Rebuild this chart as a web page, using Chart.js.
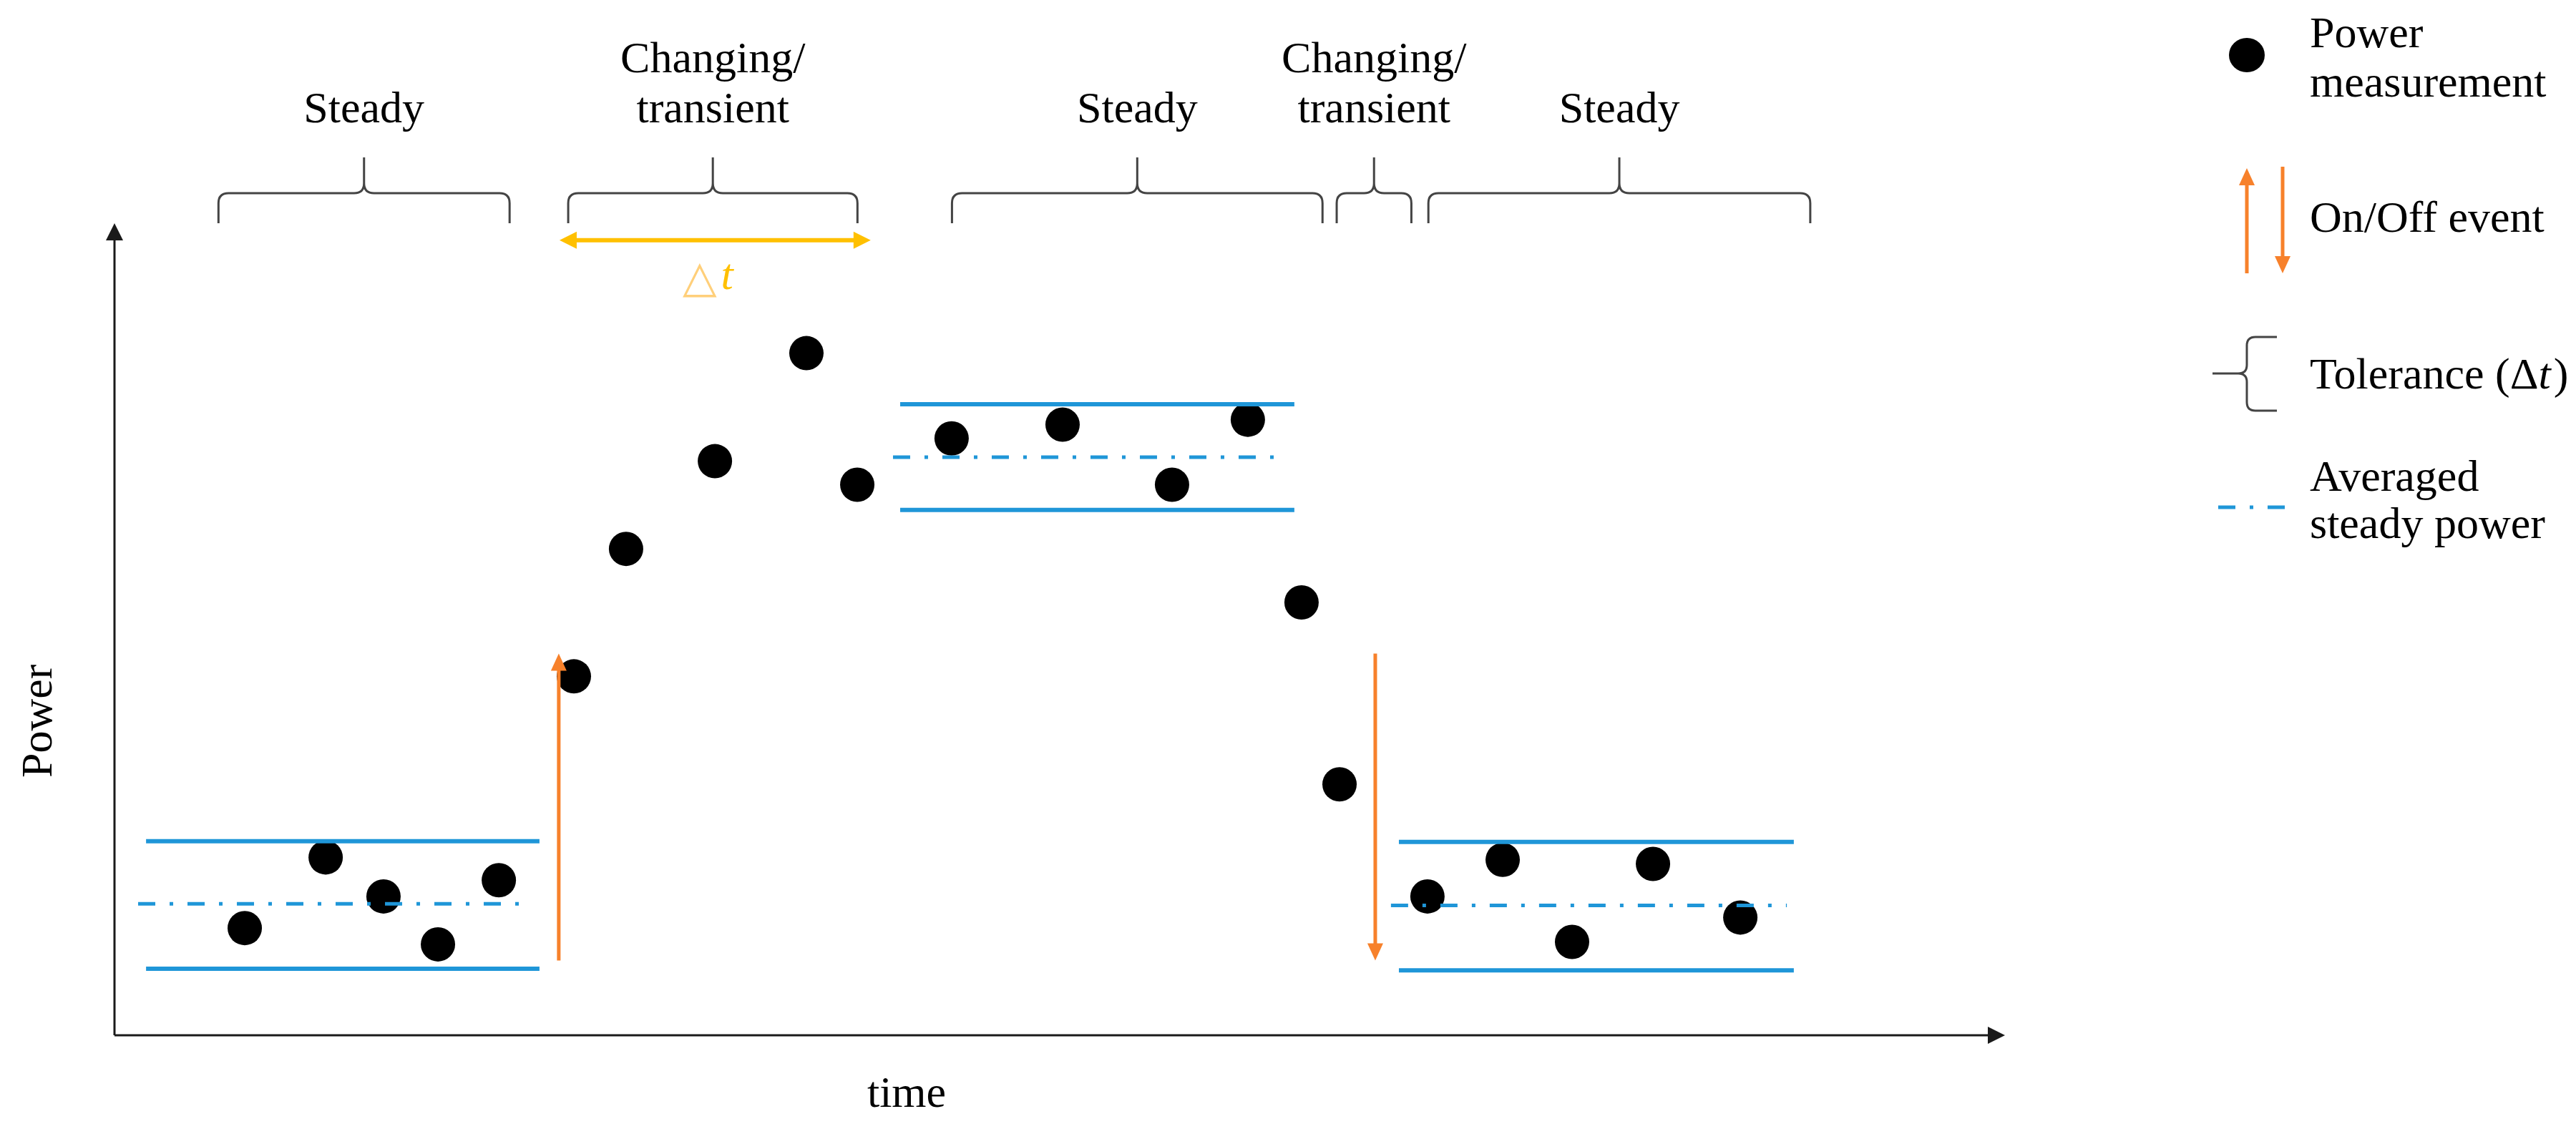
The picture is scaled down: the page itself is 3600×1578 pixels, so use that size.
<!DOCTYPE html>
<html><head><meta charset="utf-8">
<script src="https://cdn.jsdelivr.net/npm/chart.js@4"></script>
<style>html,body{margin:0;padding:0;background:#fff;}#wrap{width:3600px;height:1578px;}</style>
</head><body><div id="wrap"><canvas id="c" width="3600" height="1578"></canvas></div>
<script>
// ---- data ----
const phaseLabels = [['Steady'], ['Changing/', 'transient'], ['Steady'], ['Changing/', 'transient'], ['Steady']];
const phaseStart = [5.5, 24.0, 44.3, 64.65, 69.5];
const phaseEnd = [20.9, 39.3, 63.9, 68.6, 89.7];
const measTime = [6.89, 11.17, 14.23, 17.11, 20.33, 24.30, 27.06, 31.76, 36.60, 39.29, 44.28, 50.15, 55.94, 59.95, 62.79, 64.80, 69.45, 73.43, 77.10, 81.38, 86.0];
const measPower = [13.2, 21.9, 17.1, 11.2, 19.1, 44.2, 59.9, 70.7, 84.0, 67.8, 73.5, 75.2, 67.8, 75.8, 53.3, 30.9, 17.1, 21.6, 11.5, 21.1, 14.5];
const bandStart = [1.67, 41.56, 67.94];
const bandEnd = [22.48, 62.41, 88.83];
const bandUpper = [23.9, 77.7, 23.8];
const bandLower = [8.2, 64.7, 8.0];
const avgStart = [1.25, 41.18, 67.52];
const avgEnd = [22.14, 62.04, 88.46];
const avgPower = [16.2, 71.2, 16.0];
const eventTime = [23.5, 66.69];
const eventFrom = [9.2, 47.0];
const eventTo = [47.0, 9.2];
const tolStart = 23.54, tolEnd = 40.0, tolLevel = 97.9;
const xTitle = 'time', yTitle = 'Power';
const legendLabels = [['Power', 'measurement'], ['On/Off event'], ['Tolerance (Δ', 't', ')'], ['Averaged', 'steady power']];

// ---- styles ----
const BLUE = '#1f96d8', ORANGE = '#F7812B', GOLD = '#FFC000', BRACE = '#444';
const FONT = '"Liberation Serif", "DejaVu Serif", serif';
const DASHDOT = [24, 20, 5, 20];

const datasets = [];
for (let i = 0; i < bandStart.length; i++) {
  [bandUpper[i], bandLower[i]].forEach(v => datasets.push({
    data: [{x: bandStart[i], y: v}, {x: bandEnd[i], y: v}],
    showLine: true, borderColor: BLUE, borderWidth: 6, pointRadius: 0, borderCapStyle: 'butt', order: 1
  }));
  datasets.push({
    data: [{x: avgStart[i], y: avgPower[i]}, {x: avgEnd[i], y: avgPower[i]}],
    showLine: true, borderColor: BLUE, borderWidth: 5, borderDash: DASHDOT, pointRadius: 0, order: 1
  });
}
datasets.push({
  data: measTime.map((t, i) => ({x: t, y: measPower[i]})),
  showLine: false, pointRadius: 24, pointBackgroundColor: '#000', pointBorderWidth: 0, pointBorderColor: '#000', order: 2
});

function head(ctx, x, y, dx, dy, len, half, color) {
  ctx.beginPath();
  ctx.moveTo(x, y);
  ctx.lineTo(x - dx * len - dy * half, y - dy * len + dx * half);
  ctx.lineTo(x - dx * len + dy * half, y - dy * len - dx * half);
  ctx.closePath(); ctx.fillStyle = color; ctx.fill();
}
function vArrow(ctx, x, y0, y1, color, lw) {
  const dir = Math.sign(y1 - y0);
  ctx.strokeStyle = color; ctx.lineWidth = lw; ctx.setLineDash([]);
  ctx.beginPath(); ctx.moveTo(x, y0); ctx.lineTo(x, y1 - dir * 18); ctx.stroke();
  head(ctx, x, y1, 0, dir, 24, 11, color);
}
function hBrace(ctx, x0, x1, yEnd, yLine, yPeak) {
  const xm = (x0 + x1) / 2, r = 14;
  ctx.beginPath();
  ctx.moveTo(x0, yEnd); ctx.lineTo(x0, yLine + r); ctx.quadraticCurveTo(x0, yLine, x0 + r, yLine);
  ctx.lineTo(xm - r, yLine); ctx.quadraticCurveTo(xm, yLine, xm, yLine - r); ctx.lineTo(xm, yPeak);
  ctx.moveTo(x1, yEnd); ctx.lineTo(x1, yLine + r); ctx.quadraticCurveTo(x1, yLine, x1 - r, yLine);
  ctx.lineTo(xm + r, yLine); ctx.quadraticCurveTo(xm, yLine, xm, yLine - r);
  ctx.stroke();
}

const decor = {
  id: 'decor',
  beforeDatasetsDraw(chart) {
    const {ctx, chartArea: a} = chart;
    ctx.save();
    ctx.strokeStyle = '#1a1a1a'; ctx.lineWidth = 3; ctx.setLineDash([]);
    ctx.beginPath(); ctx.moveTo(a.left, a.bottom); ctx.lineTo(a.left, a.top + 20);
    ctx.moveTo(a.left, a.bottom); ctx.lineTo(a.right - 20, a.bottom); ctx.stroke();
    head(ctx, a.left, a.top, 0, -1, 24, 12, '#1a1a1a');
    head(ctx, a.right, a.bottom, 1, 0, 24, 12, '#1a1a1a');
    // axis titles
    ctx.fillStyle = '#000'; ctx.font = '62px ' + FONT; ctx.textAlign = 'center'; ctx.textBaseline = 'alphabetic';
    ctx.fillText(xTitle, a.left + (a.right - a.left) * 0.419, a.bottom + 100);
    ctx.save();
    ctx.translate(a.left - 88, a.bottom - (a.bottom - a.top) * 0.387);
    ctx.rotate(-Math.PI / 2);
    ctx.fillText(yTitle, 0, 0);
    ctx.restore();
    // braces + phase labels
    const xs = chart.scales.x;
    ctx.strokeStyle = BRACE; ctx.lineWidth = 3;
    for (let i = 0; i < phaseStart.length; i++) {
      const x0 = xs.getPixelForValue(phaseStart[i]), x1 = xs.getPixelForValue(phaseEnd[i]);
      hBrace(ctx, x0, x1, a.top, a.top - 42, a.top - 92);
      const lines = phaseLabels[i];
      ctx.fillStyle = '#000'; ctx.font = '62px ' + FONT; ctx.textAlign = 'center';
      lines.forEach((s, k) => ctx.fillText(s, (x0 + x1) / 2, a.top - 141 - (lines.length - 1 - k) * 70));
    }
    ctx.restore();
  },
  afterDatasetsDraw(chart) {
    const {ctx, chartArea: a} = chart;
    const xs = chart.scales.x, ys = chart.scales.y;
    ctx.save();
    for (let i = 0; i < eventTime.length; i++) {
      vArrow(ctx, xs.getPixelForValue(eventTime[i]), ys.getPixelForValue(eventFrom[i]), ys.getPixelForValue(eventTo[i]), ORANGE, 5);
    }
    // tolerance double arrow
    const tx0 = xs.getPixelForValue(tolStart), tx1 = xs.getPixelForValue(tolEnd), ty = ys.getPixelForValue(tolLevel);
    ctx.strokeStyle = GOLD; ctx.lineWidth = 6; ctx.setLineDash([]);
    ctx.beginPath(); ctx.moveTo(tx0 + 18, ty); ctx.lineTo(tx1 - 18, ty); ctx.stroke();
    head(ctx, tx0, ty, -1, 0, 24, 12, GOLD);
    head(ctx, tx1, ty, 1, 0, 24, 12, GOLD);
    const cx = (tx0 + tx1) / 2 - 10;
    ctx.textBaseline = 'alphabetic'; ctx.textAlign = 'left';
    ctx.font = '62px "DejaVu Sans", sans-serif';
    const triW = ctx.measureText('△').width;
    ctx.font = 'italic 62px ' + FONT;
    const tW = ctx.measureText('t').width;
    const sx = cx - (triW + 6 + tW) / 2;
    ctx.fillStyle = '#FFCF7A'; ctx.font = '62px "DejaVu Sans", sans-serif';
    ctx.fillText('△', sx, ty + 72);
    ctx.fillStyle = GOLD; ctx.font = 'italic 62px ' + FONT;
    ctx.fillText('t', sx + triW + 6, ty + 68);

    // legend
    const LX = 3140, TX = 3228;
    ctx.fillStyle = '#000';
    ctx.beginPath(); ctx.ellipse(LX, 77, 25, 24, 0, 0, Math.PI * 2); ctx.fill();
    ctx.font = '62px ' + FONT; ctx.textAlign = 'left';
    ctx.fillText(legendLabels[0][0], TX, 66);
    ctx.fillText(legendLabels[0][1], TX, 135);
    vArrow(ctx, LX, 382, 235, ORANGE, 5);
    vArrow(ctx, LX + 50, 233, 382, ORANGE, 5);
    ctx.fillStyle = '#000';
    ctx.fillText(legendLabels[1][0], TX, 324);
    // legend brace (tip pointing left)
    ctx.strokeStyle = BRACE; ctx.lineWidth = 3;
    const r = 12;
    ctx.beginPath();
    ctx.moveTo(LX + 42, 471); ctx.lineTo(LX + r, 471); ctx.quadraticCurveTo(LX, 471, LX, 471 + r);
    ctx.lineTo(LX, 522 - r); ctx.quadraticCurveTo(LX, 522, LX - r, 522); ctx.lineTo(LX - 48, 522);
    ctx.moveTo(LX + 42, 574); ctx.lineTo(LX + r, 574); ctx.quadraticCurveTo(LX, 574, LX, 574 - r);
    ctx.lineTo(LX, 522 + r); ctx.quadraticCurveTo(LX, 522, LX - r, 522);
    ctx.stroke();
    ctx.fillStyle = '#000'; ctx.font = '62px ' + FONT;
    let px = TX;
    ctx.fillText(legendLabels[2][0], px, 543); px += ctx.measureText(legendLabels[2][0]).width;
    ctx.font = 'italic 62px ' + FONT;
    ctx.fillText(legendLabels[2][1], px, 543); px += ctx.measureText(legendLabels[2][1]).width + 4;
    ctx.font = '62px ' + FONT;
    ctx.fillText(legendLabels[2][2], px, 543);
    // averaged
    ctx.strokeStyle = BLUE; ctx.lineWidth = 5; ctx.setLineDash(DASHDOT);
    ctx.beginPath(); ctx.moveTo(LX - 40, 709); ctx.lineTo(LX + 55, 709); ctx.stroke();
    ctx.setLineDash([]);
    ctx.fillText(legendLabels[3][0], TX, 686);
    ctx.fillText(legendLabels[3][1], TX, 752);
    ctx.restore();
  }
};

new Chart(document.getElementById('c'), {
  type: 'scatter',
  data: {datasets},
  options: {
    responsive: false, animation: false, devicePixelRatio: 1,
    layout: {padding: {left: 160, right: 798, top: 312, bottom: 131}},
    scales: {
      x: {type: 'linear', min: 0, max: 100, display: false},
      y: {type: 'linear', min: 0, max: 100, display: false}
    },
    plugins: {legend: {display: false}, tooltip: {enabled: false}}
  },
  plugins: [decor]
});
</script></body></html>
